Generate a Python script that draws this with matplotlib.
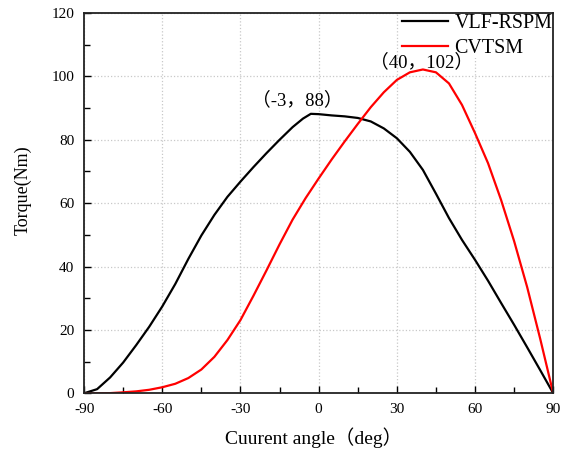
import matplotlib
matplotlib.use("Agg")
import matplotlib.pyplot as plt
from matplotlib.ticker import MultipleLocator

# ── Data ─────────────────────────────────────────────────────────────────────
angle_vlf = [-90, -85, -80, -75, -70, -65, -60, -55, -50, -45, -40, -35, -30,
             -25, -20, -15, -10, -6, -3, 0, 5, 10, 15, 20, 25, 30, 35, 40,
             45, 50, 55, 60, 65, 70, 75, 80, 85, 90]
torque_vlf = [0, 1.3, 5.0, 9.7, 15.2, 21.0, 27.4, 34.5, 42.4, 49.8, 56.3, 62.0,
              66.8, 71.4, 75.8, 80.0, 84.0, 86.7, 88.2, 88.1, 87.7, 87.4, 86.9,
              85.8, 83.6, 80.5, 76.2, 70.5, 63.0, 55.3, 48.4, 42.1, 35.5, 28.5,
              21.6, 14.5, 7.3, 0]

angle_cvt = [-90, -85, -80, -75, -70, -65, -60, -55, -50, -45, -40, -35, -30,
             -25, -20, -15, -10, -5, 0, 5, 10, 15, 20, 25, 30, 35, 40, 45,
             50, 55, 60, 65, 70, 75, 80, 85, 90]
torque_cvt = [0, 0, 0.05, 0.3, 0.6, 1.1, 1.9, 3.0, 4.8, 7.5, 11.5, 16.8, 23.1,
              30.8, 38.8, 47.0, 54.8, 61.6, 67.8, 73.8, 79.5, 85.0, 90.3, 95.0,
              98.9, 101.3, 102.2, 101.3, 97.8, 91.0, 82.1, 72.6, 61.0, 48.0,
              33.5, 17.2, 0]

series_names = ["VLF-RSPM", "CVTSM"]
peak_labels = ["（-3，88）", "（40，102）"]
peak_label_pos = [(-8.0, 92.4), (39.4, 104.4)]

# ── Style ────────────────────────────────────────────────────────────────────
plt.rcParams['font.family'] = ['Liberation Serif', 'Noto Sans CJK SC']
plt.rcParams['axes.unicode_minus'] = False

fig = plt.figure(figsize=(5.68, 4.51), dpi=100)
ax = fig.add_axes([0.148, 0.128, 0.826, 0.843])

ax.plot(angle_vlf, torque_vlf, color='black', linewidth=1.6, label=series_names[0])
ax.plot(angle_cvt, torque_cvt, color='#ff0000', linewidth=1.6, label=series_names[1])

# peak labels sit above the legend's white patch
for txt, (x, y) in zip(peak_labels, peak_label_pos):
    ax.text(x, y, txt, ha='center', va='center', fontsize=13.5, zorder=6)

ax.set_xlim(-90, 90)
ax.set_ylim(0, 120)
ax.xaxis.set_major_locator(MultipleLocator(30))
ax.xaxis.set_minor_locator(MultipleLocator(15))
ax.yaxis.set_major_locator(MultipleLocator(20))
ax.yaxis.set_minor_locator(MultipleLocator(10))
ax.tick_params(which='both', direction='in', top=False, right=False,
               labelsize=11, width=1.0)
ax.tick_params(which='major', length=5)
ax.tick_params(axis='x', which='major', pad=7)
ax.tick_params(axis='y', which='major', pad=7)
ax.tick_params(which='minor', length=4)

ax.grid(True, which='major', linestyle=':', color='#c8c8c8', linewidth=0.9)
for sp in ax.spines.values():
    sp.set_linewidth(1.3)
    sp.set_color('#222222')
    sp.set_zorder(10)

ax.set_xlabel("Cuurent angle（deg）", fontsize=14)
ax.xaxis.set_label_coords(0.49, -0.09)
ax.set_ylabel("Torque(Nm)", fontsize=13)
ax.yaxis.set_label_coords(-0.112, 0.535)

leg = ax.legend(loc='upper right', fontsize=14.4, frameon=True, fancybox=False,
                edgecolor='none', facecolor='white', framealpha=1,
                handlelength=2.3, handletextpad=0.3, labelspacing=0.28,
                borderpad=0.0, borderaxespad=0.05)

fig.savefig("out.png", dpi=100)
